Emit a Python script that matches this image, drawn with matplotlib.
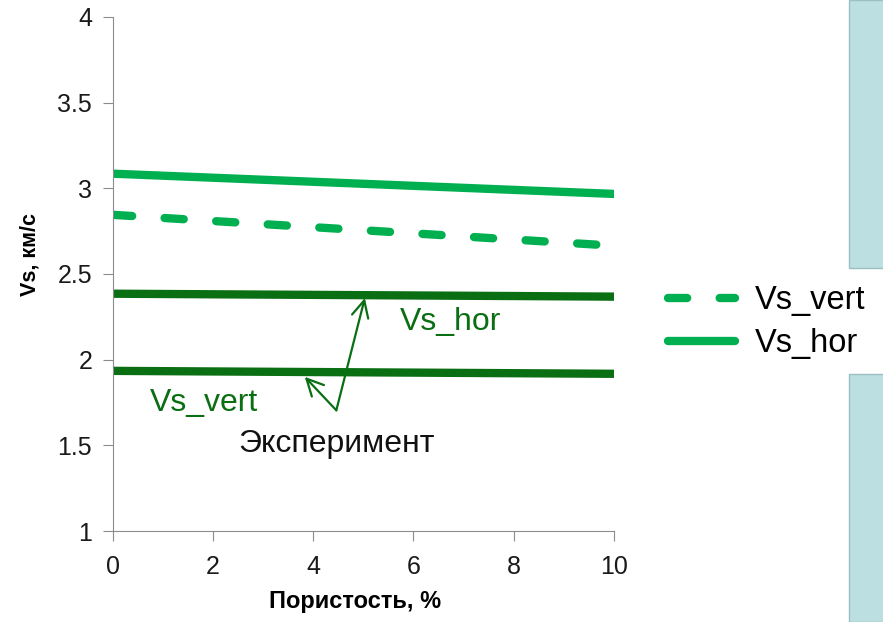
import numpy as np
import matplotlib.pyplot as plt
from matplotlib.patches import Rectangle

plt.rcParams['font.family'] = ['Liberation Sans', 'DejaVu Sans']

##Data##
porosity = [0, 10]
vs_vert = [2.845, 2.665]
vs_hor = [3.085, 2.967]
exp_hor = [2.385, 2.368]
exp_vert = [1.935, 1.918]

bright = '#00B050'
dark = '#0A6E12'
grey = '#8C8C8C'

fig = plt.figure(figsize=(8.83, 6.22), dpi=100)
ax = fig.add_axes([0.128, 0.146, 0.567, 0.827])

ax.plot(porosity, vs_vert, color=bright, lw=6, ls=(0, (2.3, 3.9)),
        dash_capstyle='round', label='Vs_vert')
ax.plot(porosity, vs_hor, color=bright, lw=6, solid_capstyle='round', label='Vs_hor')
ax.plot(porosity, exp_hor, color=dark, lw=6)
ax.plot(porosity, exp_vert, color=dark, lw=6)

ax.set_xlim(0, 10)
ax.set_ylim(1, 4)
ax.set_xticks(np.arange(0, 11, 2))
ax.set_yticks(np.arange(1, 4.01, 0.5))
ax.set_yticklabels(['1', '1.5', '2', '2.5', '3', '3.5', '4'])
for s in ['top', 'right']:
    ax.spines[s].set_visible(False)
for s in ['left', 'bottom']:
    ax.spines[s].set_color(grey)
ax.tick_params(colors=grey, labelcolor='#1a1a1a', labelsize=18, length=7, direction='out')
ax.tick_params(axis='x', pad=10)
ax.tick_params(axis='y', pad=8)
ax.set_xlabel('Пористость, %', fontsize=17, fontweight='bold', labelpad=8)
ax.set_ylabel('Vs, км/с', fontsize=15.5, fontweight='bold', labelpad=12)
ax.xaxis.label.set_x(0.484)
ax.yaxis.label.set_y(0.537)

# annotations
apex = (4.46, 1.705)
style = '->,head_length=1.2,head_width=0.6'
ax.annotate('', xy=(5.03, 2.36), xytext=apex,
            arrowprops=dict(arrowstyle=style, color=dark, lw=1.6, shrinkA=0, shrinkB=0))
ax.annotate('', xy=(3.83, 1.90), xytext=apex,
            arrowprops=dict(arrowstyle=style, color=dark, lw=1.6, shrinkA=0, shrinkB=0))
ax.text(5.73, 2.22, 'Vs_hor', color=dark, fontsize=23, va='center')
ax.text(0.74, 1.75, 'Vs_vert', color=dark, fontsize=23, va='center')
ax.text(2.5, 1.51, 'Эксперимент', color='#111111', fontsize=23, va='center')

leg = fig.legend(loc='center left', bbox_to_anchor=(0.757, 0.482), frameon=False,
                 fontsize=23.5, handlelength=2.05, handletextpad=0.6, labelspacing=0.38,
                 borderpad=0, borderaxespad=0)

# side panels
fig.patches.append(Rectangle((849 / 883, 1 - 268 / 622), 0.05, 268 / 622,
                             transform=fig.transFigure, fc='#BCDFE2', ec='#9BBFC2', lw=1))
fig.patches.append(Rectangle((849 / 883, 0), 0.05, 1 - 374 / 622,
                             transform=fig.transFigure, fc='#BCDFE2', ec='#9BBFC2', lw=1))

fig.savefig('out.png', dpi=100)
